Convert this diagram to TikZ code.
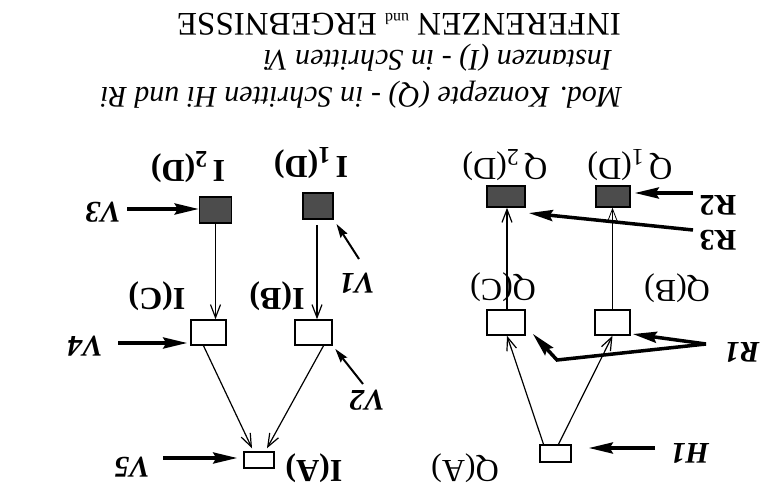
\documentclass[tikz,border=0pt]{standalone}
\usepackage{fontspec}
\setmainfont{Liberation Serif}
\usetikzlibrary{arrows.meta}
\begin{document}
\begin{tikzpicture}[x=1pt,y=-1pt,
  lbl/.style={rotate=180, inner sep=0pt, font=\fontsize{32}{34}\selectfont},
  ilbl/.style={lbl, font=\fontsize{32}{34}\selectfont\bfseries},
  vlbl/.style={lbl, font=\fontsize{30}{32}\selectfont\bfseries\itshape},
  rlbl/.style={lbl, font=\fontsize{30}{32}\selectfont\bfseries},
  head/.style={rotate=180, inner sep=0pt, anchor=base west},
  ebox/.style={draw, line width=1.5pt, fill=white, inner sep=0pt},
  dbox/.style={draw, line width=1.5pt, fill=black!70, inner sep=0pt},
  edge/.style={line width=1.2pt, -{Straight Barb[length=13pt,width=10pt]}},
  fat/.style={line width=3.5pt, -{Stealth[length=24pt,width=11pt,inset=3pt]}},
  mid/.style={line width=2pt, -{Stealth[length=14pt,width=8pt,inset=2pt]}},
]
\useasboundingbox (0,0) rectangle (779,495);

% headings (upside down)
\node[head, font=\fontsize{33}{35}\selectfont] (title) at (621,14)
  {INFERENZEN {\fontsize{16}{16}\selectfont und} ERGEBNISSE};
\node[head, font=\fontsize{30}{32}\selectfont\itshape] (inst) at (612,51)
  {Instanzen (I) - in Schritten Vi};
\node[head, font=\fontsize{30}{32}\selectfont\itshape] (mod) at (622,88)
  {Mod. Konzepte (Q) - in Schritten Hi und Ri};

% instance boxes
\node[dbox, minimum width=32pt, minimum height=26pt] (I2D) at (215.5,210) {};
\node[dbox, minimum width=30pt, minimum height=26pt] (I1D) at (318,206) {};
\node[ebox, minimum width=35pt, minimum height=25pt] (IC) at (208.5,332.5) {};
\node[ebox, minimum width=37pt, minimum height=25pt] (IB) at (313.5,332.5) {};
\node[ebox, minimum width=30pt, minimum height=16pt] (IA) at (259,460) {};

% concept boxes
\node[dbox, minimum width=38pt, minimum height=21pt] (Q2D) at (506,196.5) {};
\node[dbox, minimum width=34pt, minimum height=21pt] (Q1D) at (613,196.5) {};
\node[ebox, minimum width=38pt, minimum height=25pt] (QC) at (506,322.5) {};
\node[ebox, minimum width=35pt, minimum height=25pt] (QB) at (612.5,322.5) {};
\node[ebox, minimum width=31pt, minimum height=17pt] (QA) at (555.5,453.5) {};

% labels
\node[ilbl] (lI2D) at (188,167) {I\,\raisebox{-0.3em}{\fontsize{24}{24}\selectfont 2}(D)};
\node[ilbl] (lI1D) at (311,163) {I\,\raisebox{-0.3em}{\fontsize{24}{24}\selectfont 1}(D)};
\node[lbl] (lQ2D) at (505,165) {Q\,\raisebox{-0.3em}{\fontsize{24}{24}\selectfont 2}(D)};
\node[lbl] (lQ1D) at (630,165) {Q\,\raisebox{-0.3em}{\fontsize{24}{24}\selectfont 1}(D)};
\node[ilbl] (lIC) at (157,296) {I(C)};
\node[ilbl] (lIB) at (277,296) {I(B)};
\node[lbl] (lQC) at (503,287) {Q(C)};
\node[lbl] (lQB) at (677,288) {Q(B)};
\node[ilbl] (lIA) at (314,468) {I(A)};
\node[lbl] (lQA) at (465,468) {Q(A)};

\node[vlbl] (V1) at (357,283) {V1};
\node[vlbl] (V2) at (367,400) {V2};
\node[vlbl] (V3) at (103,212) {V3};
\node[vlbl] (V4) at (85,346) {V4};
\node[vlbl] (V5) at (132,467) {V5};
\node[vlbl] (R1) at (742,352) {R1};
\node[rlbl] (R2) at (718,205) {R2};
\node[rlbl] (R3) at (718,240) {R3};
\node[vlbl] (H1) at (690,453) {H1};

% arrow tails
\coordinate (v1t) at (359,259);
\coordinate (v2t) at (363,384);
\coordinate (v3t) at (127,209);
\coordinate (v4t) at (118,343);
\coordinate (v5t) at (163,458);
\coordinate (r1t) at (706,344);
\coordinate (r1k) at (557,360);
\coordinate (r2t) at (693,193);
\coordinate (r3t) at (693,230);
\coordinate (h1t) at (655,448);

% graph edges
\draw[edge] (I2D.south) -- (I2D.south |- IC.north);
\draw[edge, shorten <=5pt] ([xshift=-1pt]I1D.south) -- ([xshift=-1pt]I1D.south |- IB.north);
\draw[edge] ([xshift=-5pt]IC.south) -- ([xshift=-7pt,yshift=3pt]IA.north);
\draw[edge] ([xshift=10pt]IB.south) -- ([xshift=8pt,yshift=3pt]IA.north);
\draw[edge] ([xshift=1pt]QC.north) -- ([xshift=1pt]QC.north |- Q2D.south);
\draw[edge, line width=0.8pt] (QB.north) -- (QB.north |- Q1D.south);
\draw[edge] ([xshift=-12pt]QA.north) -- ([xshift=1pt]QC.south);
\draw[edge] ([xshift=3pt]QA.north) -- (QB.south);

% step arrows
\draw[mid, shorten >=5pt] (v1t) -- (I1D.south east);
\draw[mid, shorten >=4pt] (v2t) -- (IB.south east);
\draw[fat] (v3t) -- (I2D.west |- v3t);
\draw[fat, shorten >=3pt] (v4t) -- (IC.west |- v4t);
\draw[fat, shorten >=6pt] (v5t) -- (IA.west |- v5t);
\draw[fat, shorten >=4pt] (r2t) -- (Q1D.east |- r2t);
\draw[fat, shorten >=3pt] (r3t) -- ([yshift=-5pt]Q2D.south east);
\draw[fat, shorten >=17pt] (h1t) -- (QA.east |- h1t);
\draw[fat, shorten >=2pt] (r1t) -- ([yshift=2pt]QB.south east);
\draw[fat, line join=miter] (r1t) -- (r1k) -- ([xshift=7pt,yshift=2pt]QC.south east);
\end{tikzpicture}
\end{document}
